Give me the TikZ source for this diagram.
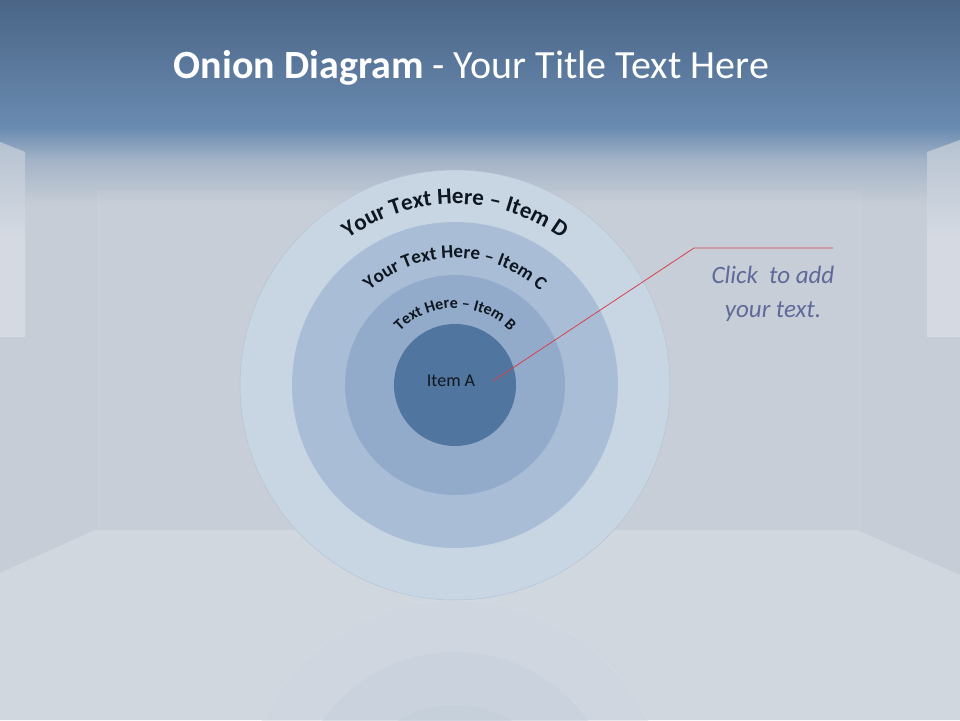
\documentclass[tikz,border=0pt]{standalone}
\usepackage{fontspec}
\setmainfont{Carlito}
\usetikzlibrary{decorations.text}
\definecolor{hdrtop}{HTML}{4A6586}
\definecolor{hdrmid}{HTML}{6A8BB1}
\definecolor{hdrfade}{HTML}{A3B3C7}
\definecolor{wall}{HTML}{C6CDD6}
\definecolor{floorc}{HTML}{D1D7DF}
\definecolor{panel}{HTML}{D5DAE2}
\definecolor{ringD}{HTML}{C8D6E4}
\definecolor{ringC}{HTML}{A9BED6}
\definecolor{ringB}{HTML}{93ABCA}
\definecolor{ringA}{HTML}{50759F}
\definecolor{edge}{HTML}{B4C3D4}
\definecolor{redline}{HTML}{D6404E}
\definecolor{clicktxt}{HTML}{5F6A9A}
\definecolor{itemtxt}{HTML}{0E1620}
\tikzset{
  ring/.style={line width=0.5pt},
  curvetext/.style={decorate, decoration={text along path, text align=center, text color=itemtxt}},
  callout/.style={draw=redline, line width=0.8pt},
  clickstyle/.style={text=clicktxt, font=\fontsize{25}{25}\selectfont\itshape, anchor=base, inner sep=0pt},
}
\begin{document}
\begin{tikzpicture}[x=1pt,y=1pt]
\useasboundingbox (0,0) rectangle (960,720);
% wall and header
\fill[wall] (0,0) rectangle (960,720);
\shade[top color=hdrtop, bottom color=hdrmid] (0,591.5) rectangle (960,720);
\shade[top color=hdrmid, bottom color=hdrfade] (0,560) rectangle (960,592);
\shade[top color=hdrfade, bottom color=wall] (0,515) rectangle (960,560.5);
% back wall hint
\fill[white, opacity=0.03] (98,190) rectangle (860,530);
\draw[white, opacity=0.06, line width=0.8pt] (98,190) -- (98,530) (860,190) -- (860,530);
% floor
\fill[floorc] (95,190) -- (857,190) -- (960,145) -- (960,0) -- (0,0) -- (0,147) -- cycle;
% side panels
\shade[top color=hdrfade!60!panel, bottom color=panel, middle color=panel] (0,578) -- (25,568) -- (25,383) -- (0,383) -- cycle;
\shade[top color=hdrfade!60!panel, bottom color=panel, middle color=panel] (927,568) -- (960,580) -- (960,383) -- (927,383) -- cycle;
% reflection
\begin{scope}
\clip (0,0) rectangle (960,120);
\fill[ringD!50!floorc, opacity=0.45] (455,-95) circle[radius=215];
\draw[white, opacity=0.12, line width=0.6pt] (455,-95) circle[radius=215];
\fill[ringC!30!floorc, opacity=0.45] (455,-95) circle[radius=163];
\fill[ringB!22!floorc, opacity=0.45] (455,-95) circle[radius=110];
\end{scope}
% onion rings
\filldraw[ring, fill=ringD, draw=edge] (455,335) circle[radius=215];
\fill[ringC] (455,335) circle[radius=163];
\fill[ringB] (455,335) circle[radius=110];
\fill[ringA] (455,335) circle[radius=61];
% curved labels
\path[curvetext, decoration={text={|\fontsize{23}{23}\selectfont\bfseries|Your Text Here – Item D}}]
  (455,335) ++(180:181) arc[start angle=180, end angle=0, radius=181];
\path[curvetext, decoration={text={|\fontsize{19}{19}\selectfont\bfseries|Your Text Here – Item C}}]
  (455,335) ++(180:127) arc[start angle=180, end angle=0, radius=127];
\path[curvetext, decoration={text={|\fontsize{16}{16}\selectfont\bfseries|Text Here – Item B}}]
  (455,335) ++(180:77) arc[start angle=180, end angle=0, radius=77];
\node[text=itemtxt, font=\fontsize{18}{18}\selectfont, inner sep=0pt] (itemA) at (451,339) {Item A};
% title
\node[text=white, font=\fontsize{40}{40}\selectfont, anchor=base, inner sep=0pt] (title) at (471.5,641)
  {\textbf{Onion Diagram} - Your Title Text Here};
% callout
\coordinate (cstart) at (493,339);
\coordinate (cbend) at (694,472);
\coordinate (cend) at (833,472);
\draw[callout] (cstart) -- (cbend) -- (cend);
\node[clickstyle] (click1) at (773,436) {Click\ \ to add};
\node[clickstyle] (click2) at (773,402) {your text.};
\end{tikzpicture}
\end{document}
